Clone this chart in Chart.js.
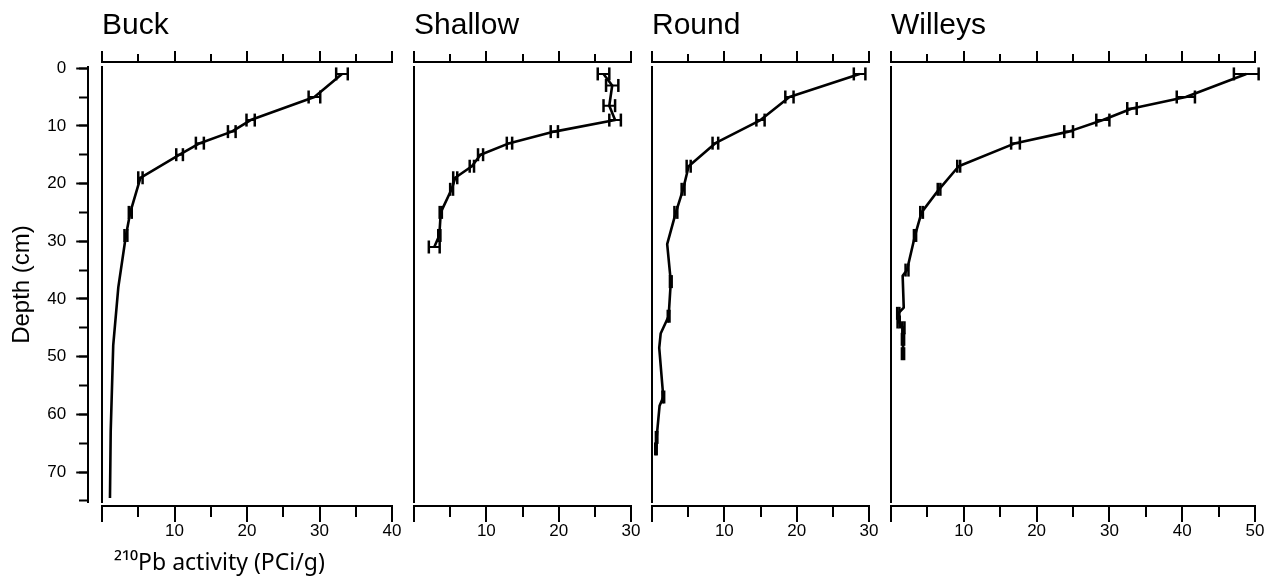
<!DOCTYPE html>
<html>
<head>
<meta charset="utf-8">
<script src="https://cdn.jsdelivr.net/npm/chart.js@4.4.0/dist/chart.umd.min.js"></script>
<style>
  body { margin: 0; background: #fff; }
  #wrap { position: relative; width: 1271px; height: 584px; }
  #wrap canvas { position: absolute; left: 0; top: 0; }
</style>
</head>
<body>
<div id="wrap">
  <canvas id="depthAxis" width="1271" height="584"></canvas>
  <canvas id="buck" width="1271" height="584"></canvas>
  <canvas id="shallow" width="1271" height="584"></canvas>
  <canvas id="round" width="1271" height="584"></canvas>
  <canvas id="willeys" width="1271" height="584"></canvas>
</div>
<script>
    // 210Pb activity profiles (PCi/g) against depth (cm)
    var buckDepth = [1, 5, 9, 11, 13, 15, 19, 25, 29, 38, 48, 63, 74.5];
    var buckActivity = [33.1, 29.3, 20.5, 17.9, 13.5, 10.7, 5.3, 3.9, 3.3, 2.25, 1.55, 1.2, 1.1];
    var buckError = [0.8, 0.8, 0.57, 0.53, 0.55, 0.46, 0.3, 0.2, 0.2, 0, 0, 0, 0];

    var shallowDepth = [1, 3, 6.5, 9, 11, 13, 15, 17, 19, 21, 25, 29, 31];
    var shallowActivity = [26.2, 27.4, 27.0, 27.8, 19.4, 13.2, 9.2, 8.0, 5.7, 5.2, 3.7, 3.5, 2.8];
    var shallowError = [0.8, 0.85, 0.8, 0.8, 0.5, 0.37, 0.35, 0.3, 0.28, 0.2, 0.15, 0.15, 0.75];

    var roundDepth = [1, 5, 9, 13, 17, 21, 25, 30.5, 37, 43, 46, 48.5, 57, 58.5, 64, 66];
    var roundActivity = [28.7, 19.0, 15.0, 8.76, 5.07, 4.3, 3.3, 2.1, 2.6, 2.3, 1.2, 1.0, 1.56, 1.05, 0.64, 0.55];
    var roundError = [0.8, 0.57, 0.57, 0.39, 0.28, 0.2, 0.2, 0, 0.12, 0.12, 0, 0, 0.12, 0, 0.1, 0.1];

    var willeysDepth = [1, 5, 7, 9, 11, 13, 17, 21, 25, 29, 35, 36, 41.5, 42.5, 44, 45, 47, 49.5];
    var willeysActivity = [48.8, 40.5, 33.1, 29.1, 24.4, 17.1, 9.3, 6.6, 4.2, 3.3, 2.2, 1.6, 1.75, 1.0, 1.05, 1.7, 1.65, 1.65];
    var willeysError = [1.7, 1.25, 0.65, 0.9, 0.6, 0.6, 0.2, 0.18, 0.18, 0.15, 0.2, 0, 0, 0.15, 0.15, 0.15, 0.15, 0.15];

    var panelNames = ['Buck', 'Shallow', 'Round', 'Willeys'];
    var panelMax = [40, 30, 30, 50];
    var depthTicks = [0, 10, 20, 30, 40, 50, 60, 70];

    // layout (pixels) and depth range
    var panelLeft = [102, 414, 652, 891];
    var panelRight = [392, 631, 869, 1255];
    var depthMin = -0.2, depthMax = 75.2;
    var topAxisAt = -1.07, bottomAxisAt = 75.9;   // axes sit a few px off the plot

    Chart.defaults.font.family = '"Liberation Sans", Arial, sans-serif';
    Chart.defaults.color = '#000';

    function axisX(max, pos, step, len, labels, border) {
        return {
            type: 'linear', min: 0, max: max, position: pos,
            ticks: {
                display: labels, stepSize: step, autoSkip: false, maxRotation: 0,
                includeBounds: false, padding: 0, color: '#000', font: { size: 17 },
                callback: function (v) { return v === 0 ? '' : v; }
            },
            grid: { drawOnChartArea: false, tickLength: len, tickWidth: 2, tickColor: '#000', lineWidth: 2, color: '#000' },
            border: { display: border, color: '#000', width: 2 }
        };
    }

    function panelChart(id, i, depth, activity, error) {
        var profile = depth.map(function (d, k) { return { x: activity[k], y: d }; });
        var bars = [];
        depth.forEach(function (d, k) {
            if (error[k] > 0) {
                bars.push({ x: activity[k] - error[k], y: d }, { x: activity[k] + error[k], y: d }, { x: null, y: null });
            }
        });
        var max = panelMax[i];
        var scales = {
            y: {
                type: 'linear', reverse: true, min: depthMin, max: depthMax, position: { x: 0 },
                ticks: { display: false, includeBounds: false },
                grid: { display: false, drawTicks: false },
                border: { display: true, color: '#000', width: 2 }
            },
            x: axisX(max, { y: bottomAxisAt }, 10, 15, true, true),
            xMinor: axisX(max, { y: bottomAxisAt }, 5, 11, false, false),
            xTop: axisX(max, { y: topAxisAt }, 10, -12, false, true),
            xTopMinor: axisX(max, { y: topAxisAt }, 5, -8, false, false)
        };
        if (i === 0) {
            // Noto Sans carries all three superscript digits
            scales.x.title = {
                display: true, align: 'start', text: '  ²¹⁰Pb activity (PCi/g)', color: '#000',
                font: { size: 23, family: '"Noto Sans", "Liberation Sans", sans-serif' },
                padding: { top: 8, bottom: 0 }
            };
        }
        return new Chart(document.getElementById(id), {
            type: 'scatter',
            data: {
                datasets: [{
                    data: profile, showLine: true, borderColor: '#000', borderWidth: 2.6,
                    pointRadius: 0, borderJoinStyle: 'round', clip: false
                }, {
                    data: bars, showLine: true, spanGaps: false, borderColor: '#000', borderWidth: 2,
                    pointStyle: 'line', rotation: 90, pointRadius: 6.5, pointBorderWidth: 2.5,
                    pointBorderColor: '#000', clip: false
                }]
            },
            options: {
                responsive: false, animation: false, events: [],
                layout: { padding: { left: panelLeft[i], right: 1271 - panelRight[i], top: 8, bottom: 82 } },
                plugins: {
                    legend: { display: false },
                    tooltip: { enabled: false },
                    title: {
                        display: true, text: panelNames[i], align: 'start', color: '#000',
                        font: { size: 30, weight: 'normal' }, padding: { top: 0, bottom: 23 }
                    }
                },
                scales: scales
            }
        });
    }

    // shared depth axis on the far left
    new Chart(document.getElementById('depthAxis'), {
        type: 'scatter',
        data: { datasets: [] },
        options: {
            responsive: false, animation: false, events: [],
            layout: { padding: { left: 8, right: 871, top: 67, bottom: 82 } },
            plugins: { legend: { display: false }, tooltip: { enabled: false } },
            scales: {
                x: { type: 'linear', display: false, min: 0, max: 1, position: 'bottom' },
                y: {
                    type: 'linear', reverse: true, min: depthMin, max: depthMax, position: 'left',
                    afterBuildTicks: function (axis) { axis.ticks = depthTicks.map(function (v) { return { value: v }; }); },
                    ticks: { autoSkip: false, padding: 10, color: '#000', font: { size: 17 } },
                    grid: { drawOnChartArea: false, tickLength: 12, tickWidth: 2, tickColor: '#000', color: '#000' },
                    border: { display: true, color: '#000', width: 2 },
                    title: { display: true, text: 'Depth (cm)', color: '#000', font: { size: 24 }, padding: { top: 0, bottom: 0.5 } }
                },
                yMinor: {
                    type: 'linear', reverse: true, min: depthMin, max: depthMax, position: { x: 0 },
                    ticks: { display: false, stepSize: 5, includeBounds: false },
                    grid: { drawOnChartArea: false, tickLength: 9, tickWidth: 2, tickColor: '#000', color: '#000' },
                    border: { display: false }
                }
            }
        }
    });

    panelChart('buck', 0, buckDepth, buckActivity, buckError);
    panelChart('shallow', 1, shallowDepth, shallowActivity, shallowError);
    panelChart('round', 2, roundDepth, roundActivity, roundError);
    panelChart('willeys', 3, willeysDepth, willeysActivity, willeysError);
</script>
</body>
</html>
